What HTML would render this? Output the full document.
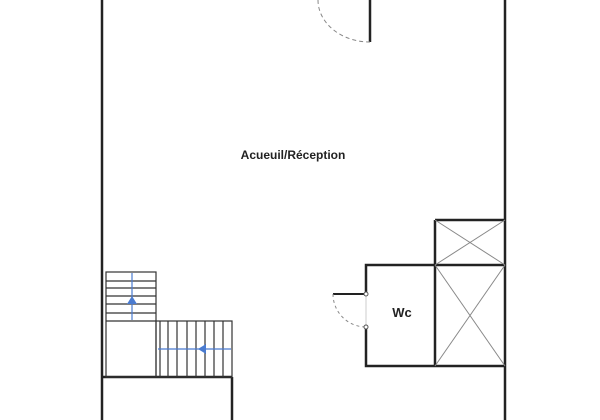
<!DOCTYPE html>
<html><head><style>body{margin:0;background:#fff}svg{display:block}</style></head><body>
<svg width="600" height="420" viewBox="0 0 600 420" xmlns="http://www.w3.org/2000/svg">
<g stroke="#222" fill="none" stroke-width="2.5">
<line x1="102" y1="0" x2="102" y2="420"/>
<line x1="505" y1="0" x2="505" y2="420"/>
<line x1="370" y1="0" x2="370" y2="42"/>
<line x1="102" y1="377" x2="232" y2="377"/>
<line x1="232" y1="377" x2="232" y2="420"/>
<polyline points="435,265 366,265 366,294"/>
<polyline points="366,327 366,366 505,366"/>
<line x1="435" y1="220" x2="505" y2="220"/>
<line x1="435" y1="220" x2="435" y2="366"/>
<line x1="435" y1="265" x2="505" y2="265"/>
<line x1="333" y1="294" x2="366" y2="294" stroke-width="2"/>
</g>
<g stroke="#888" stroke-width="1" fill="none">
<line x1="435" y1="220" x2="505" y2="265"/><line x1="505" y1="220" x2="435" y2="265"/>
<line x1="435" y1="265" x2="505" y2="366"/><line x1="505" y1="265" x2="435" y2="366"/>
<path d="M318,0 A52,42 0 0 0 370,42" stroke-dasharray="4,3"/>
<path d="M333,294 A33,33 0 0 0 366,327" stroke-dasharray="3,3"/>
<line x1="366" y1="294" x2="366" y2="327" stroke="#ccc"/>
</g>
<circle cx="366" cy="294" r="2" fill="#fff" stroke="#555"/>
<circle cx="366" cy="327" r="2" fill="#fff" stroke="#555"/>
<g stroke="#333" stroke-width="1.2" fill="none">
<rect x="106" y="272" width="50" height="105"/>
<line x1="106" y1="281" x2="156" y2="281"/><line x1="106" y1="288" x2="156" y2="288"/>
<line x1="106" y1="296" x2="156" y2="296"/><line x1="106" y1="304" x2="156" y2="304"/>
<line x1="106" y1="313" x2="156" y2="313"/><line x1="106" y1="321" x2="156" y2="321"/>
<rect x="156" y="321" width="76" height="56"/>
<line x1="160" y1="321" x2="160" y2="377"/><line x1="168" y1="321" x2="168" y2="377"/>
<line x1="177" y1="321" x2="177" y2="377"/><line x1="187" y1="321" x2="187" y2="377"/>
<line x1="196" y1="321" x2="196" y2="377"/><line x1="205" y1="321" x2="205" y2="377"/>
<line x1="214" y1="321" x2="214" y2="377"/><line x1="223" y1="321" x2="223" y2="377"/>
</g>
<g stroke="#4a7bd0" stroke-width="1.2" fill="#4a7bd0">
<line x1="132" y1="273" x2="132" y2="320"/>
<polygon points="132,296 127,304 137,304" stroke="none"/>
<line x1="158" y1="349" x2="231" y2="349"/>
<polygon points="198,349 206,344 206,354" stroke="none"/>
</g>
<text x="293" y="159" text-anchor="middle" font-family="Liberation Sans, sans-serif" font-weight="bold" font-size="12" fill="#222">Acueuil/Réception</text>
<text x="402" y="317" text-anchor="middle" font-family="Liberation Sans, sans-serif" font-weight="bold" font-size="13" fill="#222">Wc</text>
</svg>
</body></html>
